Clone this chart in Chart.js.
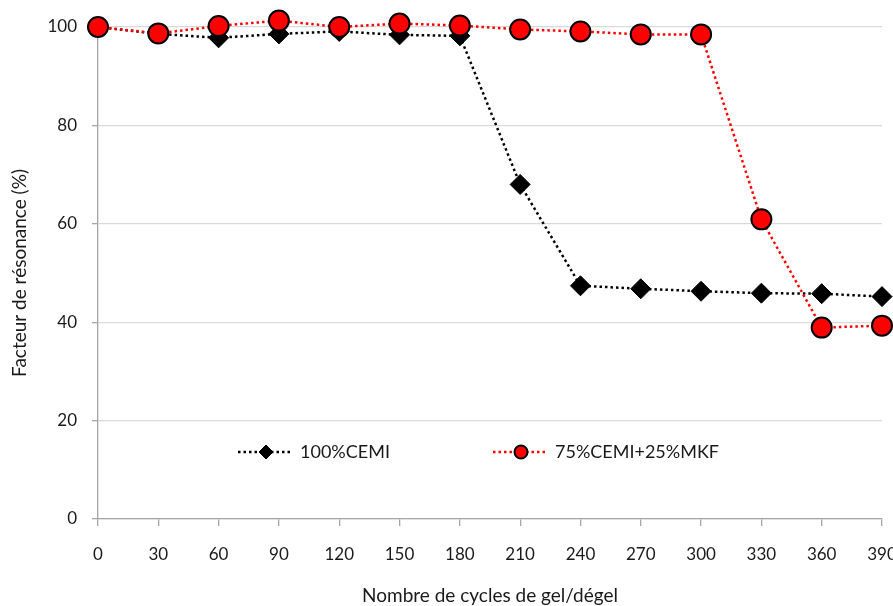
<!DOCTYPE html>
<html lang="fr">
<head>
  <meta charset="UTF-8" />
  <title>Facteur de résonance - gel/dégel</title>
  <script src="https://cdn.jsdelivr.net/npm/chart.js"></script>
  <style>
    html, body { margin: 0; padding: 0; background: #fff; overflow: hidden; }
    #wrap { width: 900px; height: 606px; position: relative; }
  </style>
</head>
<body>
  <div id="wrap"><canvas id="chart"></canvas></div>

  <script>
    // donnees
    const cycles = [0, 30, 60, 90, 120, 150, 180, 210, 240, 270, 300, 330, 360, 390];
    const cemi = [100, 98.6, 97.8, 98.6, 99.1, 98.4, 98.2, 68.0, 47.4, 46.8, 46.3, 45.9, 45.8, 45.2];
    const mkf = [100, 98.7, 100.2, 101.3, 100.0, 100.7, 100.3, 99.5, 99.1, 98.5, 98.5, 60.9, 38.9, 39.3];
    const seriesNames = ['100%CEMI', '75%CEMI+25%MKF'];
    const yTicks = [0, 20, 40, 60, 80, 100];

    const FONT = 'Lato, "Open Sans", sans-serif';
    Chart.defaults.font.family = FONT;
    Chart.defaults.font.size = 17;
    Chart.defaults.color = '#1a1a1a';

    const toXY = arr => arr.map((v, i) => ({ x: cycles[i], y: v }));

    // legende dessinee dans la zone du graphique
    const insideLegend = {
      id: 'insideLegend',
      afterDraw(chart, args, opts) {
        const ctx = chart.ctx;
        const y = opts.y;
        chart.data.datasets.forEach((ds, i) => {
          const it = opts.items[i];
          ctx.save();
          ctx.strokeStyle = ds.borderColor;
          ctx.lineWidth = ds.borderWidth;
          ctx.setLineDash(ds.borderDash);
          ctx.beginPath();
          ctx.moveTo(it.x0, y);
          ctx.lineTo(it.x1, y);
          ctx.stroke();
          ctx.setLineDash([]);
          ctx.fillStyle = ds.pointBackgroundColor;
          ctx.strokeStyle = ds.pointBorderColor;
          ctx.lineWidth = ds.pointBorderWidth;
          ctx.beginPath();
          if (ds.pointStyle === 'rectRot') {
            ctx.moveTo(it.m, y - it.r);
            ctx.lineTo(it.m + it.r, y);
            ctx.lineTo(it.m, y + it.r);
            ctx.lineTo(it.m - it.r, y);
            ctx.closePath();
          } else {
            ctx.arc(it.m, y, it.r, 0, Math.PI * 2);
          }
          ctx.fill();
          ctx.stroke();
          ctx.fillStyle = '#1a1a1a';
          ctx.font = '18px ' + FONT;
          ctx.textBaseline = 'middle';
          ctx.fillText(ds.label, it.tx, y);
          ctx.restore();
        });
      }
    };

    new Chart(document.getElementById('chart'), {
      type: 'line',
      data: {
        datasets: [{
          label: seriesNames[0],
          data: toXY(cemi),
          borderColor: '#000',
          borderWidth: 2.5,
          borderDash: [2.5, 3],
          pointStyle: 'rectRot',
          pointRadius: 10,
          pointBackgroundColor: '#000',
          pointBorderColor: '#000',
          pointBorderWidth: 1,
          tension: 0,
          clip: false,
          order: 2
        }, {
          label: seriesNames[1],
          data: toXY(mkf),
          borderColor: '#ff0000',
          borderWidth: 2.5,
          borderDash: [2.5, 3],
          pointStyle: 'circle',
          pointRadius: 10,
          pointBackgroundColor: '#ff0000',
          pointBorderColor: '#000',
          pointBorderWidth: 2,
          tension: 0,
          clip: false,
          order: 1
        }]
      },
      options: {
        responsive: true,
        maintainAspectRatio: false,
        animation: false,
        layout: { padding: { top: 27, right: 18, left: 0, bottom: 0 } },
        plugins: {
          legend: { display: false },
          tooltip: { enabled: false },
          insideLegend: {
            y: 452,
            items: [
              { x0: 238, x1: 292, m: 266, r: 7, tx: 300 },
              { x0: 493, x1: 547, m: 521, r: 6.5, tx: 555 }
            ]
          }
        },
        scales: {
          x: {
            type: 'linear',
            min: 0,
            max: 390,
            afterFit: s => { s.height = 87; s.paddingLeft = 0; s.paddingRight = 0; },
            ticks: { stepSize: 30, padding: 18, maxRotation: 0, autoSkip: false },
            grid: { drawOnChartArea: false, drawTicks: true, tickLength: 7, color: '#a6a6a6', lineWidth: 1.3 },
            border: { color: '#a6a6a6', width: 1.3 },
            title: { display: true, text: 'Nombre de cycles de gel/dégel', font: { size: 19 }, padding: { top: 0, bottom: -1 } }
          },
          y: {
            min: 0,
            max: 100,
            afterFit: s => { s.width = 98; },
            afterBuildTicks: s => { s.ticks = yTicks.map(v => ({ value: v })); },
            ticks: { padding: 15 },
            grid: {
              color: '#d9d9d9',
              lineWidth: 1.3,
              tickColor: '#a6a6a6',
              tickLength: 6
            },
            border: { color: '#a6a6a6', width: 1.3 },
            title: { display: true, text: 'Facteur de résonance (%)', font: { size: 19 }, padding: { top: 8, bottom: 0 } }
          }
        }
      },
      plugins: [insideLegend]
    });
  </script>
</body>
</html>
